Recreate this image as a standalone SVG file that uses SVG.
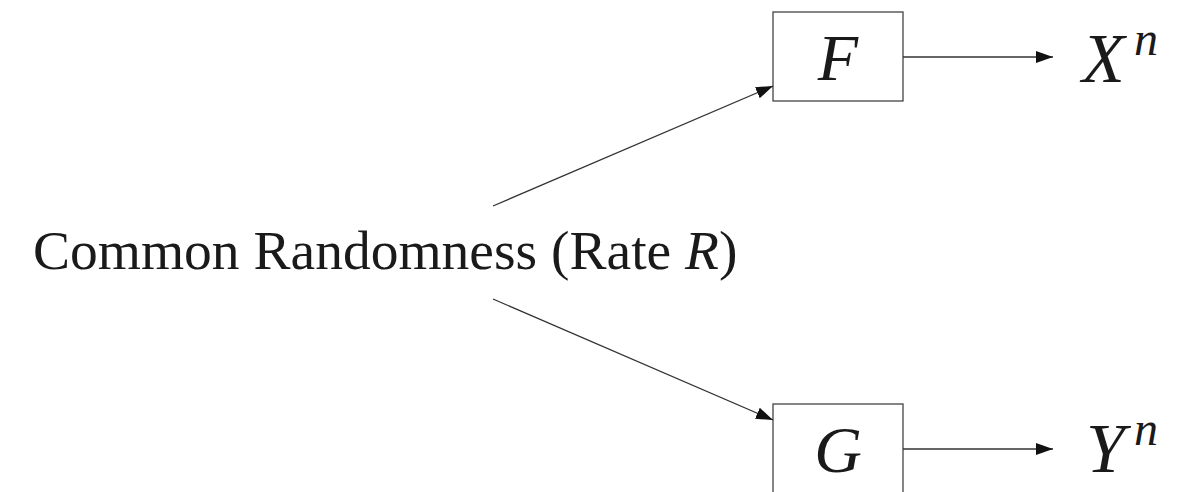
<svg xmlns="http://www.w3.org/2000/svg" width="1178" height="492" viewBox="0 0 1178 492">
  <style>
    .box { fill: #ffffff; stroke: #444444; stroke-width: 1.3; }
    .edge { fill: none; stroke: #333333; stroke-width: 1.3; }
    .txt { font-family: "Liberation Serif", "DejaVu Serif", serif; fill: #1a1a1a; }
    .math { font-family: "Liberation Serif", "DejaVu Serif", serif; font-style: italic; fill: #1a1a1a; }
  </style>
  <defs>
    <marker id="arrow" viewBox="0 0 17 12" refX="17" refY="6" markerWidth="17" markerHeight="12" markerUnits="userSpaceOnUse" orient="auto">
      <path d="M0,0 L17,6 L0,12 Z" fill="#111111"/>
    </marker>
  </defs>
  <rect width="1178" height="492" fill="#ffffff"/>

  <g id="source">
    <text class="txt" x="33" y="269" font-size="55.5">Common Randomness (Rate <tspan class="math">R</tspan>)</text>
  </g>

  <g id="nodeF">
    <rect class="box" x="773" y="12" width="130" height="89"/>
    <text class="math" x="838" y="80" font-size="66" text-anchor="middle">F</text>
  </g>

  <g id="nodeG">
    <rect class="box" x="773" y="404" width="130" height="92"/>
    <text class="math" x="838" y="472" font-size="66" text-anchor="middle">G</text>
  </g>

  <g id="outX">
    <text class="math" x="1082" y="82" font-size="70">X</text>
    <text class="math" x="1134" y="55" font-size="48">n</text>
  </g>

  <g id="outY">
    <text class="math" x="1086" y="472" font-size="70">Y</text>
    <text class="math" x="1134" y="445" font-size="48">n</text>
  </g>

  <g id="connectors">
    <line class="edge" x1="493" y1="206" x2="773" y2="86" marker-end="url(#arrow)"/>
    <line class="edge" x1="493" y1="299" x2="773" y2="420" marker-end="url(#arrow)"/>
    <line class="edge" x1="903" y1="57" x2="1053" y2="57" marker-end="url(#arrow)"/>
    <line class="edge" x1="903" y1="449" x2="1053" y2="449" marker-end="url(#arrow)"/>
  </g>
</svg>
